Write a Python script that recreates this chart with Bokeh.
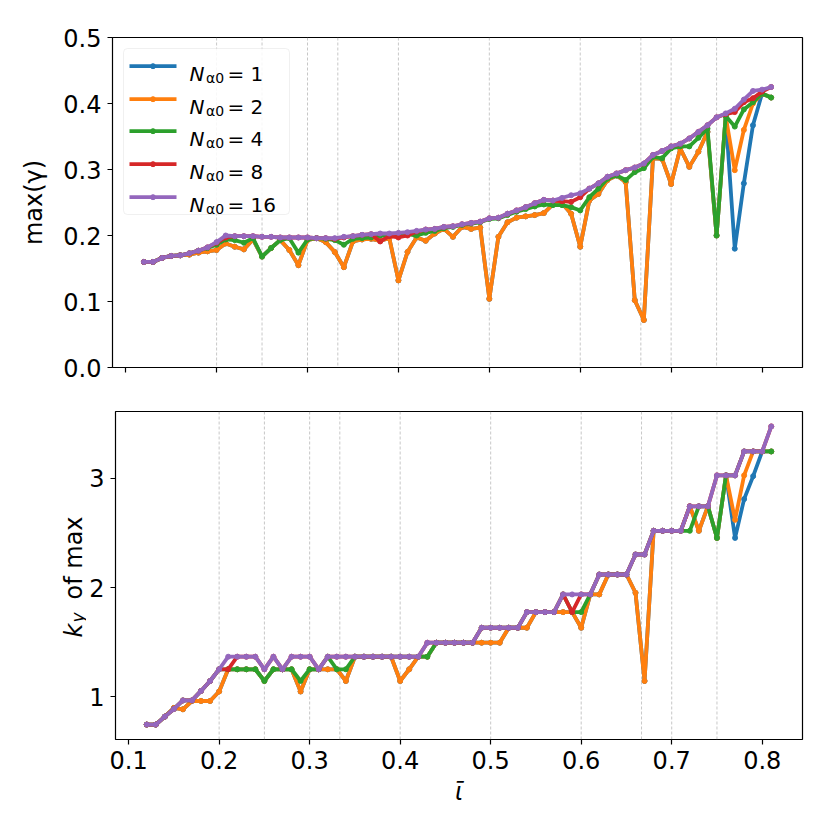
from math import pi
from bokeh.plotting import figure
from bokeh.models import (Span, BoxAnnotation, Label, FixedTicker, NumeralTickFormatter,
                          Range1d, CustomJSTickFormatter)
from bokeh.layouts import column, row
from bokeh.embed import file_html
from bokeh.resources import INLINE

# ---------------- data ----------------
iota = [0.12, 0.13, 0.14, 0.15, 0.16, 0.17, 0.18, 0.19, 0.20, 0.21,
        0.22, 0.23, 0.24, 0.25, 0.26, 0.27, 0.28, 0.29, 0.30, 0.31,
        0.32, 0.33, 0.34, 0.35, 0.36, 0.37, 0.38, 0.39, 0.40, 0.41,
        0.42, 0.43, 0.44, 0.45, 0.46, 0.47, 0.48, 0.49, 0.50, 0.51,
        0.52, 0.53, 0.54, 0.55, 0.56, 0.57, 0.58, 0.59, 0.60, 0.61,
        0.62, 0.63, 0.64, 0.65, 0.66, 0.67, 0.68, 0.69, 0.70, 0.71,
        0.72, 0.73, 0.74, 0.75, 0.76, 0.77, 0.78, 0.79, 0.80, 0.81]

n_alpha0 = [1, 2, 4, 8, 16]
colors = ["#1f77b4", "#ff7f0e", "#2ca02c", "#d62728", "#9467bd"]
rational_iota = [1/5, 1/4, 3/10, 1/3, 2/5, 1/2, 3/5, 2/3, 7/10, 3/4]

gamma_N1 = [0.160, 0.160, 0.166, 0.169, 0.170, 0.171, 0.174, 0.176, 0.178, 0.188,
            0.183, 0.179, 0.194, 0.168, 0.181, 0.193, 0.178, 0.155, 0.193, 0.196,
            0.190, 0.175, 0.152, 0.191, 0.194, 0.195, 0.192, 0.196, 0.132, 0.175,
            0.197, 0.192, 0.203, 0.210, 0.198, 0.213, 0.210, 0.212, 0.104, 0.198,
            0.220, 0.227, 0.229, 0.231, 0.234, 0.247, 0.249, 0.233, 0.183, 0.253,
            0.263, 0.284, 0.291, 0.281, 0.102, 0.072, 0.317, 0.316, 0.278, 0.332,
            0.304, 0.327, 0.357, 0.200, 0.381, 0.180, 0.279, 0.367, 0.415, 0.409]
gamma_N2 = [0.160, 0.160, 0.166, 0.169, 0.170, 0.171, 0.174, 0.176, 0.178, 0.188,
            0.183, 0.179, 0.194, 0.168, 0.181, 0.193, 0.178, 0.155, 0.193, 0.196,
            0.190, 0.175, 0.152, 0.191, 0.194, 0.195, 0.192, 0.196, 0.132, 0.175,
            0.197, 0.192, 0.203, 0.210, 0.198, 0.213, 0.210, 0.212, 0.104, 0.198,
            0.220, 0.227, 0.229, 0.231, 0.234, 0.247, 0.249, 0.233, 0.183, 0.253,
            0.263, 0.284, 0.291, 0.281, 0.102, 0.072, 0.317, 0.316, 0.278, 0.332,
            0.304, 0.327, 0.357, 0.200, 0.381, 0.299, 0.360, 0.400, 0.415, 0.409]
gamma_N4 = [0.160, 0.160, 0.166, 0.169, 0.170, 0.173, 0.177, 0.181, 0.186, 0.194,
            0.193, 0.189, 0.196, 0.168, 0.181, 0.193, 0.196, 0.174, 0.194, 0.196,
            0.195, 0.193, 0.186, 0.195, 0.196, 0.197, 0.200, 0.200, 0.201, 0.202,
            0.200, 0.204, 0.207, 0.211, 0.213, 0.216, 0.218, 0.220, 0.225, 0.226,
            0.231, 0.236, 0.240, 0.244, 0.247, 0.246, 0.246, 0.243, 0.238, 0.258,
            0.271, 0.286, 0.291, 0.284, 0.296, 0.302, 0.319, 0.317, 0.332, 0.335,
            0.335, 0.348, 0.362, 0.200, 0.381, 0.365, 0.391, 0.402, 0.415, 0.409]
gamma_N8 = [0.160, 0.160, 0.166, 0.169, 0.170, 0.173, 0.177, 0.182, 0.189, 0.197,
            0.199, 0.199, 0.199, 0.198, 0.198, 0.197, 0.197, 0.197, 0.197, 0.196,
            0.196, 0.195, 0.197, 0.199, 0.201, 0.202, 0.191, 0.199, 0.197, 0.200,
            0.206, 0.209, 0.210, 0.213, 0.214, 0.217, 0.219, 0.221, 0.226, 0.227,
            0.233, 0.238, 0.243, 0.249, 0.254, 0.253, 0.252, 0.251, 0.258, 0.271,
            0.279, 0.289, 0.294, 0.299, 0.303, 0.309, 0.322, 0.328, 0.335, 0.339,
            0.347, 0.357, 0.367, 0.379, 0.384, 0.387, 0.402, 0.408, 0.418, 0.425]
gamma_N16 = [0.160, 0.160, 0.166, 0.169, 0.170, 0.173, 0.177, 0.182, 0.190, 0.200,
             0.199, 0.199, 0.199, 0.198, 0.198, 0.197, 0.197, 0.197, 0.197, 0.196,
             0.196, 0.196, 0.198, 0.199, 0.201, 0.202, 0.203, 0.203, 0.204, 0.205,
             0.207, 0.209, 0.210, 0.213, 0.214, 0.217, 0.219, 0.221, 0.226, 0.227,
             0.233, 0.238, 0.243, 0.249, 0.254, 0.253, 0.257, 0.261, 0.264, 0.271,
             0.279, 0.289, 0.294, 0.299, 0.303, 0.309, 0.322, 0.328, 0.335, 0.339,
             0.347, 0.357, 0.367, 0.379, 0.385, 0.392, 0.406, 0.419, 0.421, 0.425]

ky_N1 = [0.747, 0.747, 0.82, 0.90, 0.887, 0.963, 0.963, 0.963, 1.05, 1.253,
         1.253, 1.253, 1.253, 1.146, 1.253, 1.253, 1.253, 1.05, 1.253, 1.253,
         1.253, 1.253, 1.146, 1.368, 1.368, 1.368, 1.368, 1.368, 1.146, 1.253,
         1.368, 1.368, 1.496, 1.496, 1.496, 1.496, 1.496, 1.496, 1.496, 1.496,
         1.633, 1.633, 1.633, 1.776, 1.776, 1.776, 1.776, 1.776, 1.633, 1.938,
         1.938, 2.12, 2.12, 2.12, 1.953, 1.146, 2.52, 2.52, 2.52, 2.52,
         2.744, 2.52, 2.744, 2.455, 3.027, 2.455, 2.81, 3.02, 3.246, 3.246]
ky_N2 = [0.747, 0.747, 0.82, 0.90, 0.887, 0.963, 0.963, 0.963, 1.05, 1.253,
         1.253, 1.253, 1.253, 1.146, 1.253, 1.253, 1.253, 1.05, 1.253, 1.253,
         1.253, 1.253, 1.146, 1.368, 1.368, 1.368, 1.368, 1.368, 1.146, 1.253,
         1.368, 1.368, 1.496, 1.496, 1.496, 1.496, 1.496, 1.496, 1.496, 1.496,
         1.633, 1.633, 1.633, 1.776, 1.776, 1.776, 1.776, 1.776, 1.633, 1.938,
         1.938, 2.12, 2.12, 2.12, 1.953, 1.146, 2.52, 2.52, 2.52, 2.52,
         2.744, 2.52, 2.744, 2.455, 3.027, 2.62, 3.027, 3.246, 3.246, 3.246]
ky_N4 = [0.747, 0.747, 0.82, 0.89, 0.968, 0.968, 1.055, 1.146, 1.253, 1.253,
         1.253, 1.253, 1.253, 1.146, 1.253, 1.253, 1.253, 1.146, 1.253, 1.253,
         1.368, 1.253, 1.253, 1.368, 1.368, 1.368, 1.368, 1.368, 1.368, 1.368,
         1.368, 1.368, 1.496, 1.496, 1.496, 1.496, 1.496, 1.633, 1.633, 1.633,
         1.633, 1.633, 1.776, 1.776, 1.776, 1.776, 1.938, 1.776, 1.776, 1.938,
         2.12, 2.12, 2.12, 2.12, 2.303, 2.303, 2.52, 2.52, 2.52, 2.52,
         2.52, 2.744, 2.744, 2.455, 3.027, 3.027, 3.246, 3.246, 3.246, 3.246]
ky_N8 = [0.747, 0.747, 0.82, 0.89, 0.968, 0.968, 1.055, 1.146, 1.253, 1.253,
         1.368, 1.368, 1.368, 1.253, 1.368, 1.253, 1.368, 1.368, 1.368, 1.253,
         1.368, 1.368, 1.368, 1.368, 1.368, 1.368, 1.368, 1.368, 1.368, 1.368,
         1.368, 1.496, 1.496, 1.496, 1.496, 1.496, 1.496, 1.633, 1.633, 1.633,
         1.633, 1.633, 1.776, 1.776, 1.776, 1.776, 1.938, 1.776, 1.938, 1.938,
         2.12, 2.12, 2.12, 2.12, 2.303, 2.303, 2.52, 2.52, 2.52, 2.52,
         2.744, 2.744, 2.744, 3.027, 3.027, 3.027, 3.246, 3.246, 3.246, 3.475]
ky_N16 = [0.747, 0.747, 0.82, 0.89, 0.968, 0.968, 1.055, 1.146, 1.253, 1.368,
          1.368, 1.368, 1.368, 1.253, 1.368, 1.253, 1.368, 1.368, 1.368, 1.253,
          1.368, 1.368, 1.368, 1.368, 1.368, 1.368, 1.368, 1.368, 1.368, 1.368,
          1.368, 1.496, 1.496, 1.496, 1.496, 1.496, 1.496, 1.633, 1.633, 1.633,
          1.633, 1.633, 1.776, 1.776, 1.776, 1.776, 1.938, 1.938, 1.938, 1.938,
          2.12, 2.12, 2.12, 2.12, 2.303, 2.303, 2.52, 2.52, 2.52, 2.52,
          2.744, 2.744, 2.744, 3.027, 3.027, 3.027, 3.246, 3.246, 3.246, 3.475]

gamma_series = [gamma_N1, gamma_N2, gamma_N4, gamma_N8, gamma_N16]
ky_series = [ky_N1, ky_N2, ky_N4, ky_N8, ky_N16]

x_ticks = [0.1, 0.2, 0.3, 0.4, 0.5, 0.6, 0.7, 0.8]
gamma_ticks = [0.0, 0.1, 0.2, 0.3, 0.4, 0.5]
ky_ticks = [1, 2, 3]

# ---------------- layout constants (page pixels) ----------------
FONT = "DejaVu Sans"
TICK_FS = "24px"
LW = 3.8
TOTAL_W = 822
FRAME_W = 690
FL = 112                      # frame left edge
B_RIGHT = TOTAL_W - FL - FRAME_W
H1_TOP, FRAME_H1, H1_BOT = 37, 330, 22
H2_TOP, FRAME_H2, H2_BOT = 22, 328, 80
H1 = H1_TOP + FRAME_H1 + H1_BOT
H2 = H2_TOP + FRAME_H2 + H2_BOT
FT2 = H1 + H2_TOP             # page y of bottom frame top
FB2 = FT2 + FRAME_H2          # page y of bottom frame bottom
LBL_W = 86                    # strip that carries the bottom y label

x_lo = min(iota) - 0.05 * (max(iota) - min(iota))
x_hi = max(iota) + 0.05 * (max(iota) - min(iota))
all_ky = [v for s in ky_series for v in s]
k_lo = min(all_ky) - 0.05 * (max(all_ky) - min(all_ky))
k_hi = max(all_ky) + 0.05 * (max(all_ky) - min(all_ky))

x_range = Range1d(x_lo, x_hi)
FT1 = H1_TOP


def px_x(px):
    return x_lo + (px - FL) / FRAME_W * (x_hi - x_lo)


def py_g(py):
    return 0.5 - (py - FT1) / FRAME_H1 * 0.5


def make_fig(width, height, y_range, left, top, bottom):
    p = figure(width=width, height=height, x_range=x_range, y_range=y_range,
               min_border_left=left, min_border_right=B_RIGHT,
               min_border_top=top, min_border_bottom=bottom,
               output_backend="svg", toolbar_location=None)
    p.xgrid.visible = False
    p.ygrid.visible = False
    p.outline_line_color = "black"
    p.outline_line_width = 1.2
    p.background_fill_color = "white"
    p.border_fill_color = "white"
    for ax in (p.xaxis[0], p.yaxis[0]):
        ax.axis_line_color = None
        ax.major_tick_line_color = "black"
        ax.major_tick_line_width = 1.2
        ax.major_tick_out = 5
        ax.major_tick_in = 0
        ax.minor_tick_line_color = None
        ax.major_label_text_font = FONT
        ax.major_label_text_font_size = TICK_FS
        ax.major_label_text_color = "black"
        ax.major_label_standoff = 6
        ax.axis_label_text_font = FONT
        ax.axis_label_text_font_size = "24px"
        ax.axis_label_text_font_style = "normal"
        ax.axis_label_text_color = "black"
    p.xaxis.ticker = FixedTicker(ticks=x_ticks)
    p.xaxis.formatter = NumeralTickFormatter(format="0.0")
    for v in rational_iota:
        p.add_layout(Span(location=v, dimension="height", line_color="#9a9a9a",
                          line_alpha=0.7, line_width=0.8, line_dash="3 2",
                          level="underlay"))
    return p


p1 = make_fig(TOTAL_W, H1, Range1d(0, 0.5), FL, H1_TOP, H1_BOT)
p2 = make_fig(TOTAL_W - LBL_W, H2, Range1d(k_lo, k_hi), FL - LBL_W, H2_TOP, H2_BOT)

# top panel: ticks along the shared x axis, but no tick labels
p1.xaxis.formatter = CustomJSTickFormatter(code="return ''")
p1.xaxis.major_label_text_font_size = "2px"
p1.yaxis.ticker = FixedTicker(ticks=gamma_ticks)
p1.yaxis.formatter = NumeralTickFormatter(format="0.0")
p1.yaxis.axis_label = "max(γ)"
p1.yaxis.axis_label_standoff = 12

p2.yaxis.ticker = FixedTicker(ticks=ky_ticks)
p2.yaxis.formatter = NumeralTickFormatter(format="0")
p2.xaxis.axis_label = "ῑ"
p2.xaxis.axis_label_text_font_style = "italic"
p2.xaxis.axis_label_standoff = 6

for c, g, k in zip(colors, gamma_series, ky_series):
    p1.line(iota, g, line_color=c, line_width=LW)
    p1.scatter(iota, g, size=5, color=c)
    p2.line(iota, k, line_color=c, line_width=LW)
    p2.scatter(iota, k, size=5, color=c)

# ---------------- legend (top panel) ----------------
p1.add_layout(BoxAnnotation(left=px_x(123), right=px_x(289), top=py_g(48), bottom=py_g(214),
                            fill_color="white", fill_alpha=0.85, line_color="#cccccc",
                            line_width=1, border_radius=4, level="underlay"))
row_y = [65.7, 98.7, 130.7, 163.7, 196.7]
for c, n, ry in zip(colors, n_alpha0, row_y):
    gy = py_g(ry)
    p1.line([px_x(129), px_x(176)], [gy, gy], line_color=c, line_width=LW)
    p1.scatter([px_x(152.5)], [gy], size=5, color=c)
    p1.add_layout(Label(x=px_x(189), y=py_g(ry + 7.6), text="N", text_font=FONT,
                        text_font_size="20px", text_font_style="italic",
                        text_baseline="alphabetic", text_align="left", text_color="black"))
    p1.add_layout(Label(x=px_x(205.5), y=py_g(ry + 11.8), text="α0", text_font=FONT,
                        text_font_size="14px", text_font_style="normal",
                        text_baseline="alphabetic", text_align="left", text_color="black"))
    p1.add_layout(Label(x=px_x(227), y=py_g(ry + 7.6), text="= " + str(n), text_font=FONT,
                        text_font_size="20px", text_font_style="normal",
                        text_baseline="alphabetic", text_align="left", text_color="black"))

# ---------------- strip with the bottom y label: k_y of max ----------------
# its frame is aligned with the bottom panel's frame; data units = page pixels
lab = figure(width=LBL_W, height=H2, x_range=Range1d(0, LBL_W), y_range=Range1d(FB2, FT2),
             min_border_left=0, min_border_right=0,
             min_border_top=H2_TOP, min_border_bottom=H2_BOT,
             output_backend="svg", toolbar_location=None)
lab.axis.visible = False
lab.grid.visible = False
lab.outline_line_color = None
lab.background_fill_color = "white"
lab.border_fill_color = "white"
lab.add_layout(Label(x=73, y=637, text="k", angle=pi / 2,
                     text_font=FONT, text_font_size="24px", text_font_style="italic",
                     text_baseline="alphabetic", text_align="left", text_color="black"))
lab.add_layout(Label(x=77, y=622, text="y", angle=pi / 2,
                     text_font=FONT, text_font_size="17px", text_font_style="italic",
                     text_baseline="alphabetic", text_align="left", text_color="black"))
lab.add_layout(Label(x=73, y=599, text="of max", angle=pi / 2,
                     text_font=FONT, text_font_size="24px", text_font_style="normal",
                     text_baseline="alphabetic", text_align="left", text_color="black"))

layout = column(p1, row(lab, p2, spacing=0), spacing=0)
open("out.html", "w").write(file_html(layout, INLINE))
